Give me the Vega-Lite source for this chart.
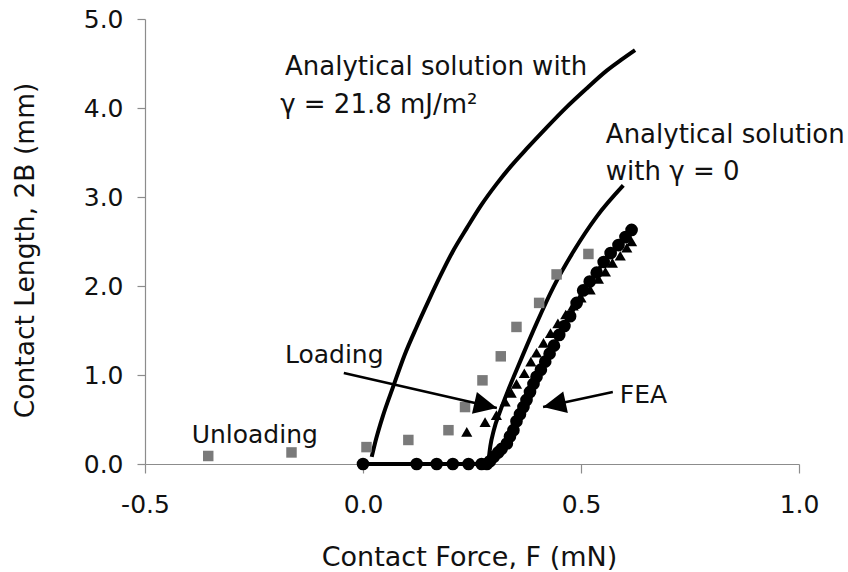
{
  "$schema": "https://vega.github.io/schema/vega-lite/v6.json",
  "width": 654,
  "height": 445,
  "autosize": "none",
  "padding": {"left": 145, "top": 19, "right": 49, "bottom": 108},
  "background": "white",
  "config": {
    "view": {"stroke": null},
    "font": "DejaVu Sans",
    "axis": {
      "grid": false,
      "domainColor": "#8c8c8c",
      "tickColor": "#8c8c8c",
      "domainWidth": 1.2,
      "tickWidth": 1.2,
      "labelFont": "DejaVu Sans",
      "labelFontSize": 25,
      "labelColor": "#111111",
      "titleFont": "DejaVu Sans",
      "titleFontSize": 26.5,
      "titleFontWeight": "normal",
      "titleColor": "#111111",
      "labelFlush": false,
      "labelOverlap": false,
      "labelExpr": "replace(format(datum.value, '.1f'), '\u2212', '-')"
    }
  },
  "datasets": {
    "analytical": [
      {"series": "gamma21.8", "F": 0.020, "L": 0.08},
      {"series": "gamma21.8", "F": 0.030, "L": 0.28},
      {"series": "gamma21.8", "F": 0.045, "L": 0.53},
      {"series": "gamma21.8", "F": 0.070, "L": 0.88},
      {"series": "gamma21.8", "F": 0.095, "L": 1.22},
      {"series": "gamma21.8", "F": 0.123, "L": 1.54},
      {"series": "gamma21.8", "F": 0.150, "L": 1.83},
      {"series": "gamma21.8", "F": 0.177, "L": 2.11},
      {"series": "gamma21.8", "F": 0.205, "L": 2.38},
      {"series": "gamma21.8", "F": 0.238, "L": 2.65},
      {"series": "gamma21.8", "F": 0.270, "L": 2.90},
      {"series": "gamma21.8", "F": 0.307, "L": 3.15},
      {"series": "gamma21.8", "F": 0.340, "L": 3.35},
      {"series": "gamma21.8", "F": 0.375, "L": 3.54},
      {"series": "gamma21.8", "F": 0.421, "L": 3.78},
      {"series": "gamma21.8", "F": 0.467, "L": 4.01},
      {"series": "gamma21.8", "F": 0.513, "L": 4.22},
      {"series": "gamma21.8", "F": 0.559, "L": 4.42},
      {"series": "gamma21.8", "F": 0.592, "L": 4.54},
      {"series": "gamma21.8", "F": 0.624, "L": 4.65},
      {"series": "gamma0", "F": 0.287, "L": 0.00},
      {"series": "gamma0", "F": 0.292, "L": 0.20},
      {"series": "gamma0", "F": 0.300, "L": 0.38},
      {"series": "gamma0", "F": 0.315, "L": 0.60},
      {"series": "gamma0", "F": 0.333, "L": 0.83},
      {"series": "gamma0", "F": 0.350, "L": 1.03},
      {"series": "gamma0", "F": 0.368, "L": 1.24},
      {"series": "gamma0", "F": 0.398, "L": 1.58},
      {"series": "gamma0", "F": 0.437, "L": 1.99},
      {"series": "gamma0", "F": 0.483, "L": 2.39},
      {"series": "gamma0", "F": 0.536, "L": 2.78},
      {"series": "gamma0", "F": 0.597, "L": 3.13}
    ],
    "fea": [
      {"F": 0.000, "L": 0.00},
      {"F": 0.123, "L": 0.00},
      {"F": 0.169, "L": 0.00},
      {"F": 0.206, "L": 0.00},
      {"F": 0.242, "L": 0.00},
      {"F": 0.272, "L": 0.00},
      {"F": 0.284, "L": 0.00},
      {"F": 0.291, "L": 0.03},
      {"F": 0.300, "L": 0.08},
      {"F": 0.310, "L": 0.13},
      {"F": 0.318, "L": 0.17},
      {"F": 0.330, "L": 0.23},
      {"F": 0.337, "L": 0.31},
      {"F": 0.345, "L": 0.38},
      {"F": 0.352, "L": 0.48},
      {"F": 0.360, "L": 0.56},
      {"F": 0.368, "L": 0.64},
      {"F": 0.375, "L": 0.72},
      {"F": 0.383, "L": 0.81},
      {"F": 0.391, "L": 0.90},
      {"F": 0.398, "L": 0.98},
      {"F": 0.408, "L": 1.06},
      {"F": 0.418, "L": 1.15},
      {"F": 0.428, "L": 1.24},
      {"F": 0.438, "L": 1.33},
      {"F": 0.450, "L": 1.45},
      {"F": 0.462, "L": 1.55},
      {"F": 0.475, "L": 1.66},
      {"F": 0.490, "L": 1.81},
      {"F": 0.505, "L": 1.95},
      {"F": 0.520, "L": 2.05},
      {"F": 0.536, "L": 2.15},
      {"F": 0.552, "L": 2.27},
      {"F": 0.568, "L": 2.37},
      {"F": 0.586, "L": 2.46},
      {"F": 0.602, "L": 2.55},
      {"F": 0.616, "L": 2.63}
    ],
    "loading": [
      {"F": 0.238, "L": 0.36},
      {"F": 0.280, "L": 0.47},
      {"F": 0.306, "L": 0.55},
      {"F": 0.326, "L": 0.70},
      {"F": 0.340, "L": 0.80},
      {"F": 0.352, "L": 0.90},
      {"F": 0.370, "L": 1.02},
      {"F": 0.385, "L": 1.15},
      {"F": 0.398, "L": 1.25},
      {"F": 0.414, "L": 1.36},
      {"F": 0.430, "L": 1.47},
      {"F": 0.447, "L": 1.58},
      {"F": 0.465, "L": 1.68},
      {"F": 0.482, "L": 1.78},
      {"F": 0.500, "L": 1.87},
      {"F": 0.521, "L": 1.96},
      {"F": 0.540, "L": 2.08},
      {"F": 0.556, "L": 2.16},
      {"F": 0.572, "L": 2.26},
      {"F": 0.590, "L": 2.34},
      {"F": 0.605, "L": 2.43},
      {"F": 0.616, "L": 2.50}
    ],
    "unloading": [
      {"F": -0.355, "L": 0.09},
      {"F": -0.164, "L": 0.13},
      {"F": 0.008, "L": 0.19},
      {"F": 0.104, "L": 0.27},
      {"F": 0.196, "L": 0.38},
      {"F": 0.234, "L": 0.64},
      {"F": 0.274, "L": 0.94},
      {"F": 0.316, "L": 1.21},
      {"F": 0.352, "L": 1.54},
      {"F": 0.404, "L": 1.81},
      {"F": 0.444, "L": 2.13},
      {"F": 0.517, "L": 2.36}
    ],
    "arrows": [
      {"name": "Loading", "F0": -0.044, "L0": 1.022, "F1": 0.307, "L1": 0.629},
      {"name": "FEA", "F0": 0.573, "L0": 0.809, "F1": 0.413, "L1": 0.640}
    ],
    "curveNotes": [
      {"label": "Analytical solution with", "F": -0.179, "L": 4.371},
      {"label": "γ = 21.8 mJ/m²", "F": -0.19, "L": 3.944},
      {"label": "Analytical solution", "F": 0.557, "L": 3.607},
      {"label": "with γ = 0", "F": 0.557, "L": 3.191}
    ],
    "seriesNotes": [
      {"label": "Loading", "F": -0.179, "L": 1.135},
      {"label": "Unloading", "F": -0.393, "L": 0.236},
      {"label": "FEA", "F": 0.589, "L": 0.682}
    ]
  },
  "encoding": {
    "x": {
      "field": "F",
      "type": "quantitative",
      "scale": {"domain": [-0.5, 1.0], "nice": false, "zero": false},
      "axis": {
        "title": "Contact Force, F (mN)",
        "values": [-0.5, 0, 0.5, 1.0],
        "tickSize": 9,
        "labelPadding": 39,
        "labelBaseline": "alphabetic",
        "titleBaseline": "alphabetic",
        "titleFontSize": 27,
        "titleY": 101,
        "titleX": 324
      }
    },
    "y": {
      "field": "L",
      "type": "quantitative",
      "scale": {"domain": [0, 5], "nice": false},
      "axis": {
        "title": "Contact Length, 2B (mm)",
        "values": [0, 1, 2, 3, 4, 5],
        "tickSize": 8,
        "labelPadding": 14,
        "titleBaseline": "alphabetic",
        "titleAngle": -90,
        "titleAlign": "center",
        "titleX": -112,
        "titleY": 231
      }
    }
  },
  "layer": [
    {
      "data": {"name": "analytical"},
      "mark": {"type": "line", "color": "black", "strokeWidth": 4, "interpolate": "monotone"},
      "encoding": {"detail": {"field": "series"}}
    },
    {
      "data": {"name": "fea"},
      "mark": {"type": "line", "color": "black", "strokeWidth": 4}
    },
    {
      "data": {"name": "fea"},
      "mark": {"type": "point", "shape": "circle", "filled": true, "color": "black", "opacity": 1, "size": 160}
    },
    {
      "data": {"name": "loading"},
      "mark": {"type": "point", "shape": "triangle-up", "filled": true, "color": "black", "opacity": 1, "size": 125}
    },
    {
      "data": {"name": "unloading"},
      "mark": {"type": "point", "shape": "square", "filled": true, "color": "#7a7a7a", "opacity": 1, "size": 110}
    },
    {
      "data": {"name": "arrows"},
      "mark": {"type": "rule", "color": "black", "strokeWidth": 2.5},
      "encoding": {
        "x": {"field": "F0", "type": "quantitative"},
        "y": {"field": "L0", "type": "quantitative"},
        "x2": {"field": "F1"},
        "y2": {"field": "L1"}
      }
    },
    {
      "data": {"name": "arrows"},
      "transform": [{"filter": "datum.name === 'Loading'"}],
      "mark": {"type": "point", "shape": "M0,0L-1,-0.48L-1,0.48Z", "filled": true, "color": "black", "opacity": 1, "size": 2116, "angle": 12.9},
      "encoding": {
        "x": {"field": "F1", "type": "quantitative"},
        "y": {"field": "L1", "type": "quantitative"}
      }
    },
    {
      "data": {"name": "arrows"},
      "transform": [{"filter": "datum.name === 'FEA'"}],
      "mark": {"type": "point", "shape": "M0,0L-1,-0.48L-1,0.48Z", "filled": true, "color": "black", "opacity": 1, "size": 2116, "angle": 167.9},
      "encoding": {
        "x": {"field": "F1", "type": "quantitative"},
        "y": {"field": "L1", "type": "quantitative"}
      }
    },
    {
      "data": {"name": "curveNotes"},
      "mark": {"type": "text", "align": "left", "baseline": "alphabetic", "font": "DejaVu Sans", "fontSize": 26, "color": "#111111"},
      "encoding": {"text": {"field": "label"}}
    },
    {
      "data": {"name": "seriesNotes"},
      "mark": {"type": "text", "align": "left", "baseline": "alphabetic", "font": "DejaVu Sans", "fontSize": 25, "color": "#111111"},
      "encoding": {"text": {"field": "label"}}
    }
  ]
}
